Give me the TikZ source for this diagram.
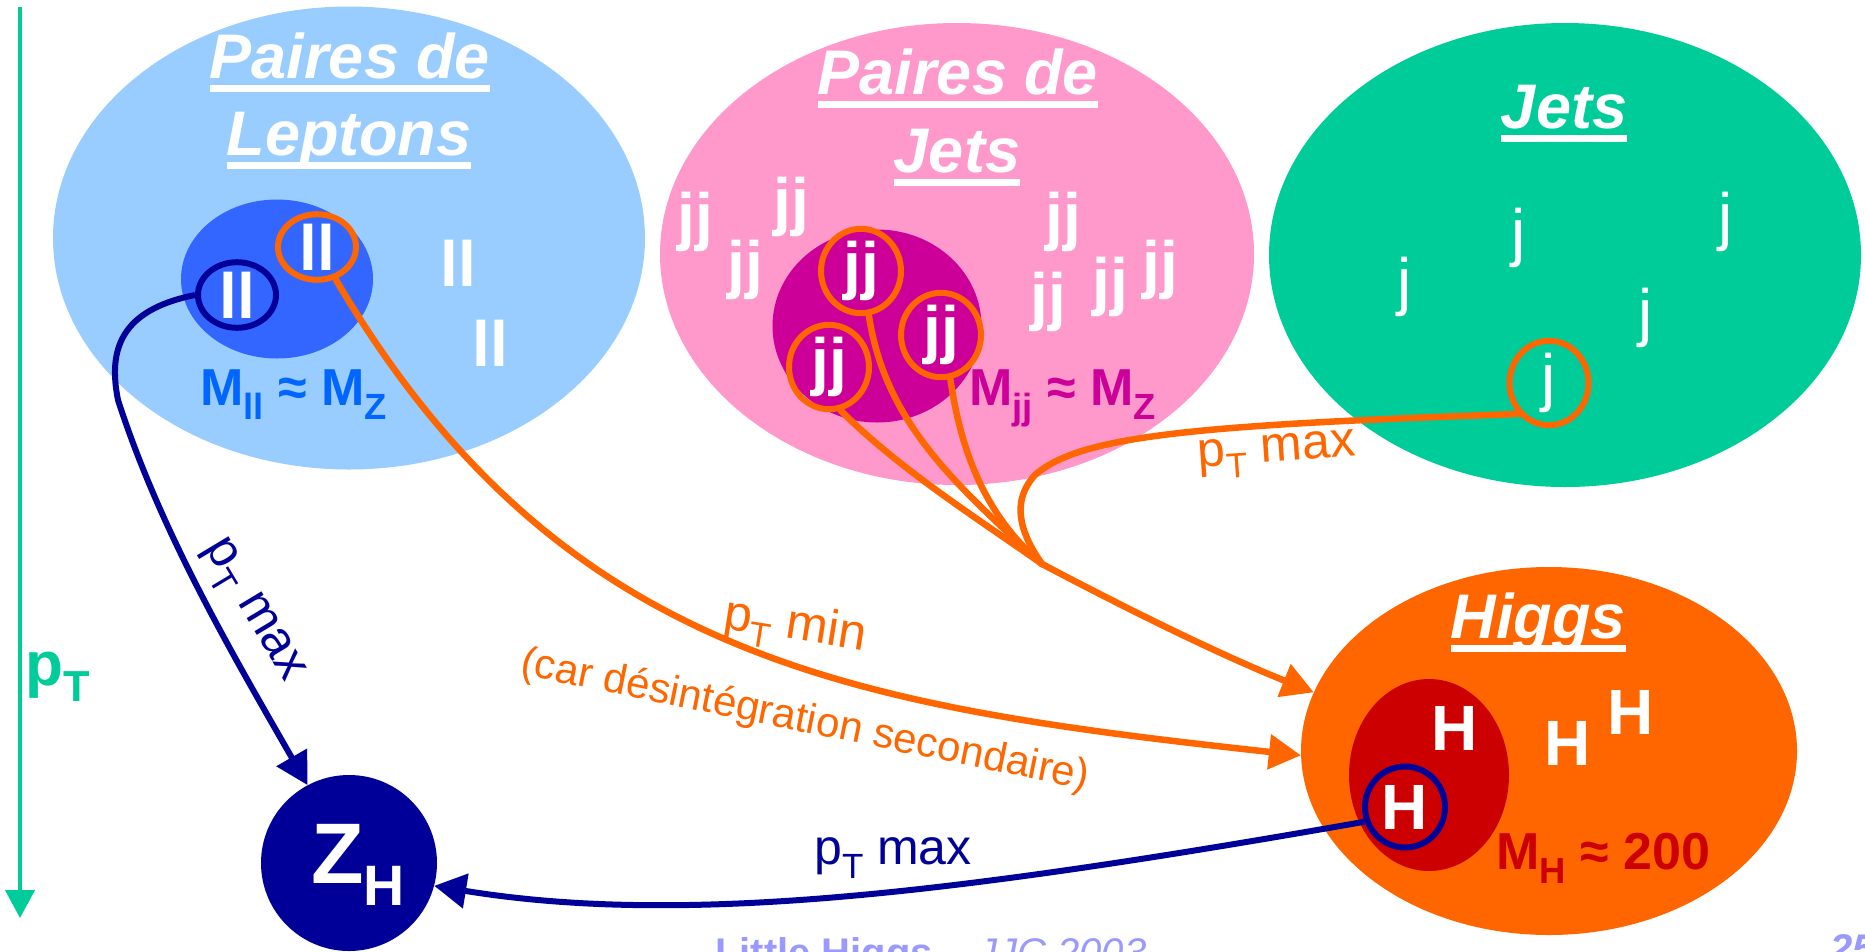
\documentclass[tikz,border=0pt]{standalone}
\usepackage{fontspec}
\setmainfont{Liberation Sans}
\usepackage{graphicx}
\usetikzlibrary{shapes.geometric,arrows.meta}

\definecolor{lepbg}{HTML}{99CCFF}
\definecolor{lepin}{HTML}{3366FF}
\definecolor{leptx}{HTML}{0066FF}
\definecolor{navy}{HTML}{000099}
\definecolor{pinkbg}{HTML}{FF99CC}
\definecolor{magin}{HTML}{CC0099}
\definecolor{grn}{HTML}{00CC99}
\definecolor{orng}{HTML}{FF6600}
\definecolor{dkred}{HTML}{CC0000}
\definecolor{foot}{HTML}{9999FF}

% font size in px (1pt = 1px here)
\newcommand\fsz[1]{\fontsize{#1}{#1}\selectfont}
% thick underline for the set titles
\newcommand\ulx[1]{\setbox0\hbox{#1}\rlap{\rule[-0.225em]{\wd0}{0.11em}}\box0}
% lowered subscript
\newcommand\sbx[1]{\raisebox{-0.27em}{\scalebox{0.7}{#1}}}

\begin{document}
\begin{tikzpicture}[x=1pt,y=-1pt,
  blob/.style={ellipse,inner sep=0,draw=none},
  ring/.style={ellipse,inner sep=0,line width=6pt},
  wl/.style={text=white,font=\fsz{64}\bfseries,inner sep=0},
  wj/.style={text=white,font=\fsz{64},inner sep=0},
  wh/.style={text=white,font=\fsz{64}\bfseries,inner sep=0},
  ttl/.style={text=white,font=\fsz{63}\bfseries\itshape,inner sep=0,anchor=base},
  mlab/.style={font=\fsz{52}\bfseries,inner sep=0,anchor=base west},
  clab/.style={font=\fsz{50},inner sep=0},
  orl/.style={draw=orng,line width=6.5pt,line cap=round},
  nvl/.style={draw=navy,line width=6pt},
  arrowhd/.style={-{Triangle[length=32pt,width=34pt]}},
]
\useasboundingbox (0,0) rectangle (1865,951);

% --- the four sets ---
\node[blob,fill=lepbg,minimum width=592,minimum height=463] (lep) at (349,238) {};
\node[blob,fill=pinkbg,minimum width=594,minimum height=462] (pjj) at (957,254) {};
\node[blob,fill=grn,minimum width=592,minimum height=464] (jets) at (1565,255) {};
\node[blob,fill=orng,minimum width=496,minimum height=368] (hig) at (1549,751) {};

% --- mass windows ---
\node[blob,fill=lepin,minimum width=192,minimum height=159] (lepZ) at (277,279) {};
\node[blob,fill=magin,minimum width=209,minimum height=193] (jjZ) at (877,326) {};
\node[blob,fill=dkred,minimum width=160,minimum height=192] (higW) at (1429,775) {};

% --- Z_H ---
\node[circle,fill=navy,inner sep=0,minimum size=176] (ZH) at (349,863) {};
\node[text=white,font=\fsz{86}\bfseries,inner sep=0,anchor=base west] (zhlab) at (311,883)
  {Z\raisebox{-0.26em}{\fsz{57}\bfseries H}};

% --- titles ---
\node[ttl] (lepT1) at (350,78) {\ulx{Paires de}};
\node[ttl] (lepT2) at (349,155) {\ulx{Leptons}};
\node[ttl] (pjjT1) at (958,94) {\ulx{Paires de}};
\node[ttl] (pjjT2) at (957,172) {\ulx{Jets}};
\node[ttl] (jetsT) at (1564,128) {\ulx{Jets}};
\node[ttl] (higT) at (1538,638) {\ulx{Higgs}};

% --- lepton pairs ---
\node[wl] (ll1) at (458,263) {ll};
\node[wl] (ll2) at (490,343) {ll};
\node[ring,draw=orng,wl,minimum width=78,minimum height=63] (llo) at (317,247) {ll};
\node[ring,draw=navy,wl,minimum width=78,minimum height=63] (llb) at (237,295) {ll};
\node[mlab,text=leptx] (mll) at (200,405) {M\sbx{ll} ≈ M\sbx{Z}};

% --- jet pairs ---
\node[wl] (jjA) at (695,222) {jj};
\node[wl] (jjB) at (745,270) {jj};
\node[wl] (jjC) at (791,207) {jj};
\node[wl] (jjD) at (1063,222) {jj};
\node[wl] (jjE) at (1048,302) {jj};
\node[wl] (jjF) at (1110,287) {jj};
\node[wl] (jjG) at (1160,270) {jj};
\node[ring,draw=orng,wl,minimum size=80] (jj1) at (861,271) {jj};
\node[ring,draw=orng,wl,minimum size=80] (jj2) at (829,367) {jj};
\node[ring,draw=orng,wl,minimum size=80] (jj3) at (941,335) {jj};
\node[mlab,text=magin] (mjj) at (969,405) {M\sbx{jj} ≈ M\sbx{Z}};

% --- jets ---
\node[wj] (j1) at (1405,287) {j};
\node[wj] (j2) at (1519,238) {j};
\node[wj] (j3) at (1646,318) {j};
\node[wj] (j4) at (1726,222) {j};
\node[ring,draw=orng,wj,minimum width=79,minimum height=80] (jc) at (1549,383) {j};

% --- Higgs ---
\node[wh] (H1) at (1455,728) {H};
\node[wh] (H2) at (1568,743) {H};
\node[wh] (H3) at (1631,712) {H};
\node[ring,draw=navy,wh,minimum width=80,minimum height=81] (hc) at (1405,807) {H};
\node[mlab,text=dkred] (mh) at (1496,869) {M\sbx{H} ≈ 200};

% --- connectors ---
\coordinate (J) at (1042,564);
\draw[nvl,arrowhd] (llb.west) .. controls (120,310) and (108,350) .. (118,400)
  .. controls (160,530) and (230,650) .. (ZH.118);
\draw[orl,arrowhd,line cap=butt] (llo.-60) .. controls (560,660) and (850,706) .. (hig.181);
\draw[orl] (jj1.-80) .. controls (885,420) and (950,480) .. (J);
\draw[orl] (jj2.-75) .. controls (900,470) and (980,520) .. (J);
\draw[orl] (jj3.-78) .. controls (962,460) and (990,520) .. (J);
\draw[orl] (jc.225) .. controls (1200,425) and (1080,435) .. (1035,475)
  .. controls (1012,500) and (1018,530) .. (J);
\draw[orl,arrowhd,line cap=butt] (J) .. controls (1150,621) and (1233,660) .. (hig.166);
\draw[nvl,arrowhd] (hc.200) .. controls (964,892) and (687,927) .. (ZH.-15);

% --- connector labels ---
\node[clab,text=navy,rotate=-59] (lblA) at (251,612) {p\sbx{T} max};
\node[clab,text=orng,rotate=-9] (lblB) at (795,628) {p\sbx{T} min};
\node[font=\fsz{42},text=orng,rotate=-11.5,inner sep=0] (lblC) at (805,721) {(car désintégration secondaire)};
\node[clab,text=orng,rotate=4] (lblD) at (1277,455) {p\sbx{T} max};
\node[clab,text=navy] (lblE) at (893,858) {p\sbx{T} max};

% --- pT axis ---
\coordinate (axtop) at (20,7);
\coordinate (axbot) at (20,918);
\draw[draw=grn,line width=4.5pt,-{Triangle[length=28pt,width=29pt]}] (axtop) -- (axbot);
\node[anchor=base west,font=\fsz{62}\bfseries,text=grn,inner sep=0] (ptax) at (25,685) {p\sbx{T}};

% --- footer ---
\node[anchor=base west,font=\fsz{40},text=foot,inner sep=0] (foottxt) at (715,966)
  {{\bfseries Little Higgs} – {\itshape JJC 2003}};
\node[anchor=base west,font=\fsz{40}\bfseries\itshape,text=foot,inner sep=0] (pgno) at (1830,962) {25};
\end{tikzpicture}
\end{document}
